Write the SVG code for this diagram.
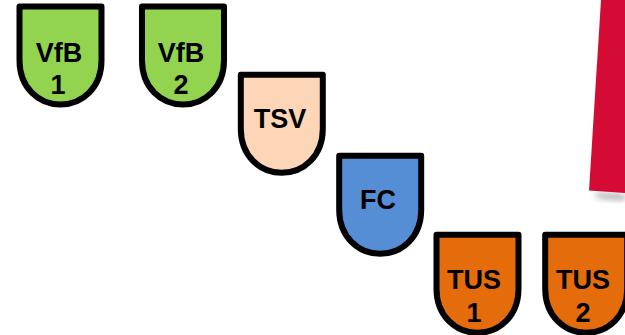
<svg xmlns="http://www.w3.org/2000/svg" width="625" height="335" viewBox="0 0 625 335">
<style>
.s{stroke:#000;stroke-width:6;stroke-linejoin:round}
.t{font-family:"Liberation Sans",Arial,sans-serif;font-size:27px;font-weight:bold;fill:#000;text-anchor:middle}
.g{fill:#92d450}.o{fill:#e46c0a}
</style>
<defs>
<path id="sh" d="M0 0H82V54C82 81 63 98 41 98C19 98 0 81 0 54Z"/>
<filter id="b" x="-30%" y="-30%" width="160%" height="160%"><feGaussianBlur stdDeviation="3"/></filter>
</defs>
<rect width="625" height="335" fill="#fff"/>
<g id="banner">
<polygon points="593,193 625,195 625,200 600,198" fill="#777" opacity=".7" filter="url(#b)"/>
<polygon points="601,0 625,0 625,193 589,190.500" fill="#d40b35"/>
</g>
<g id="vfb1"><use href="#sh" x="19.500" y="6.500" class="s g"/><text class="t" x="59" y="62">VfB</text><text class="t" x="58" y="94">1</text></g>
<g id="vfb2"><use href="#sh" x="142" y="6.500" class="s g"/><text class="t" x="181" y="62">VfB</text><text class="t" x="181" y="94">2</text></g>
<g id="tsv"><use href="#sh" x="240.800" y="74.800" class="s" fill="#fdd5b7"/><text class="t" x="280" y="128">TSV</text></g>
<g id="fc"><use href="#sh" x="339.200" y="155.800" class="s" fill="#558ed5"/><text class="t" x="378" y="209">FC</text></g>
<g id="tus1"><use href="#sh" x="436.500" y="234.800" class="s o"/><text class="t" x="474" y="289">TUS</text><text class="t" x="474" y="322">1</text></g>
<g id="tus2"><use href="#sh" x="545.200" y="234.800" class="s o"/><text class="t" x="583" y="289">TUS</text><text class="t" x="583" y="322">2</text></g>
</svg>
